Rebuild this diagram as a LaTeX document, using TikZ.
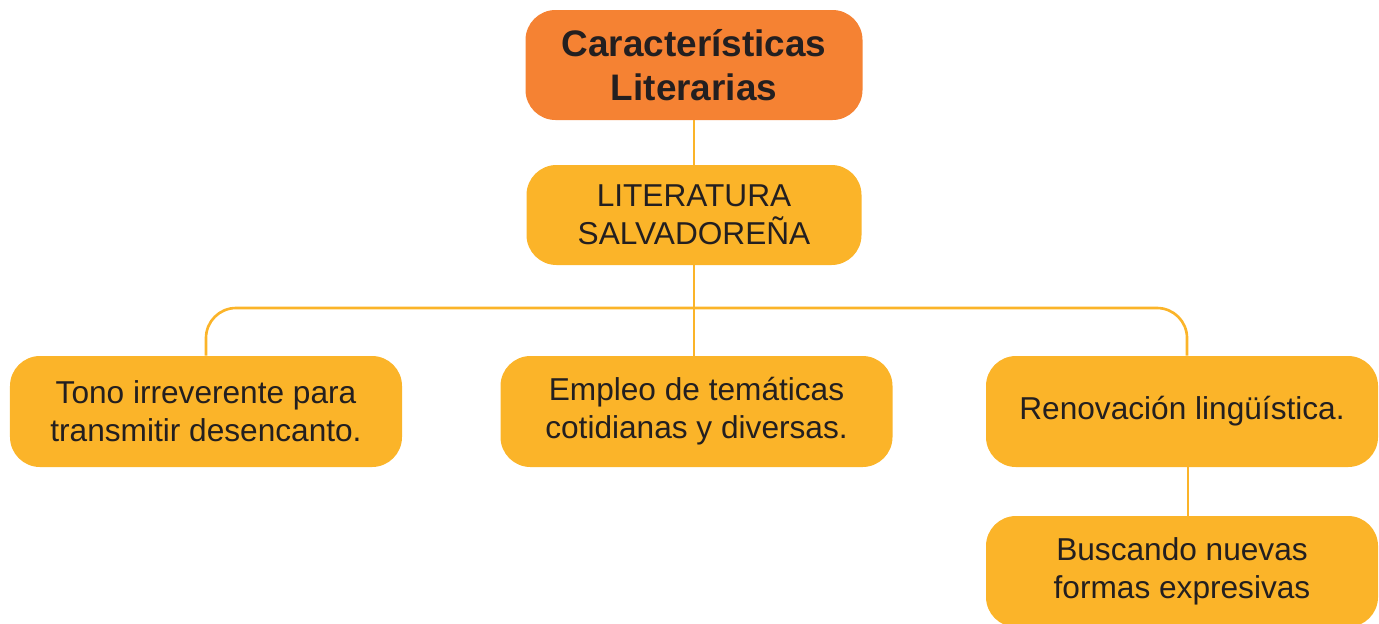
\documentclass[tikz,border=0pt]{standalone}
\usepackage{fontspec}
\setmainfont{Liberation Sans}
\definecolor{topcol}{HTML}{F58233}
\definecolor{boxcol}{HTML}{FBB429}
\definecolor{txtcol}{HTML}{231F20}
\begin{document}
\begin{tikzpicture}[
  box/.style={rectangle, rounded corners=0.6cm, fill=boxcol, text=txtcol, align=center,
    minimum width=7.84cm, minimum height=2.22cm, font=\fontsize{18}{21.6}\selectfont},
  headbox/.style={box, fill=topcol, minimum width=6.74cm, minimum height=2.2cm,
    font=\fontsize{21}{25}\selectfont\bfseries},
  link/.style={draw=boxcol, line width=1.5pt}]
\useasboundingbox (0,0) rectangle (27.58,-12.46);
\node[headbox] (title) at (13.88,-1.3) {Características\\Literarias};
\node[box, minimum width=6.7cm, minimum height=2cm] (lit) at (13.88,-4.3) {LITERATURA\\SALVADOREÑA};
\node[box] (tono) at (4.12,-8.23) {Tono irreverente para\\transmitir desencanto.};
\node[box] (empleo) at (13.93,-8.23) {Empleo de temáticas\\cotidianas y diversas.};
\node[box] (renov) at (23.64,-8.23) {Renovación lingüística.};
\node[box] (busca) at (23.64,-11.43) {Buscando nuevas\\formas expresivas};
\coordinate (bus) at (13.9,-6.16);
\draw[link] (title) -- (lit);
\draw[link] (lit.south) -- (lit.south |- empleo.north);
\draw[link, rounded corners=0.6cm] (tono.north) |- (bus) -| ([xshift=0.1cm]renov.north);
\draw[link] ([xshift=0.12cm]renov.south) -- ([xshift=0.12cm]busca.north);
\end{tikzpicture}
\end{document}
